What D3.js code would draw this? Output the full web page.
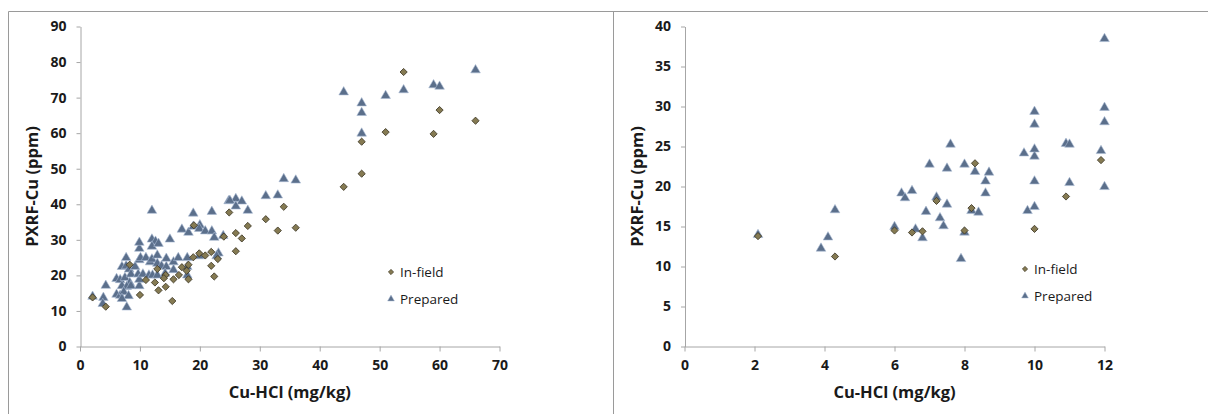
<!DOCTYPE html>
<html>
<head>
<meta charset="utf-8">
<script src="https://cdn.jsdelivr.net/npm/d3@7"></script>
<style>
  body { margin: 0; background: #fff; }
  svg { display: block; }
  .tick text { font-family: "Open Sans", Lato, sans-serif; font-weight: bold; font-size: 14px; fill: #1a1a1a; }
  .tick line, .domain { stroke: #a6a6a6; }
  .axis-title { font-family: "Open Sans", Lato, sans-serif; font-weight: bold; font-size: 16.5px; fill: #1a1a1a; }
  .legend text { font-family: "Open Sans", Lato, sans-serif; font-size: 13.5px; fill: #1a1a1a; }
</style>
</head>
<body>
<script>
// left chart: full range
var leftInField = [
  [2.1,13.8],[4.3,11.2],[8.3,23.0],[10,14.5],[11,18.7],[12.5,18],[12.9,21.8],[13.1,15.8],
  [14.3,20.1],[14.0,19.2],[14.3,16.8],[15.4,12.8],[15.6,18.9],[16.5,20.1],[17,22.3],[18.1,23],
  [17.8,21.3],[18.1,18.9],[18.9,25.1],[19,34.1],[19.9,26.2],[20.9,25.6],[21.9,26.6],[21.9,22.7],
  [22.4,19.7],[23,24.6],[24,30.9],[24.9,37.7],[26,31.9],[26,26.8],[27,30.4],[28,33.9],
  [31,35.8],[33,32.6],[34,39.3],[36,33.4],[44,44.9],[47,48.6],[47,57.6],[51,60.3],
  [54,77.2],[59,59.8],[60,66.5],[66,63.5]
];
var leftPrepared = [
  [2.1,13.9],[3.9,13.6],[3.8,11.9],[4.3,17],[6.1,18.9],[6.7,18.6],[7.5,19.2],[8.3,17.8],
  [7,16.9],[7.8,16.7],[8.5,16.9],[6.1,14.5],[6.7,14.2],[7.3,15.2],[8.1,14.1],[7,13.3],
  [7.8,10.9],[7.7,24.8],[7,22.3],[7.7,22.5],[8.2,21.6],[8.5,20.2],[9.2,22.3],[9.7,20.2],
  [9.9,16.9],[9.9,18.7],[9.9,24.2],[10.1,24.8],[9.9,27.4],[9.9,29.1],[10.5,20.2],[11,24.8],
  [11.5,19.9],[11.7,23.6],[12,24.4],[12,38.1],[12,30],[12.6,29.4],[12,28],[13.1,28.8],
  [12.1,19.9],[12.9,19.9],[12.9,25.5],[12.9,23.2],[13.6,22.5],[14.4,24.6],[14.4,22.3],[14.2,20.4],
  [15,30],[15.6,23.6],[15.6,21.4],[16.4,24.8],[17.9,24.8],[17.9,22.3],[17.9,19.9],[17,32.8],
  [18.1,31.9],[18.9,33.6],[18.9,37.3],[20,34],[19.9,33],[19.9,25.3],[20.9,32.3],[22,32.3],
  [22,37.8],[22.4,30.5],[23.9,31],[23.1,26.1],[22.8,25.3],[24.8,40.8],[26,41.4],[25,40.9],
  [27,40.7],[26,39.3],[28,38.1],[31,42.2],[33,42.4],[34,47],[36,46.6],[44,71.4],
  [47,68.3],[47,65.6],[47,59.8],[51,70.4],[54,72],[59,73.4],[60,73],[66,77.6]
];
var leftXTicks = [0, 10, 20, 30, 40, 50, 60, 70];
var leftYTicks = [0, 10, 20, 30, 40, 50, 60, 70, 80, 90];

// right chart: low range
var rightInField = [
  [2.1,13.8],[4.3,11.25],[6.0,14.5],[6.5,14.25],[6.8,14.4],[7.2,18.2],[8.0,14.5],[8.2,17.3],
  [8.3,22.9],[10.0,14.7],[10.9,18.75],[11.9,23.3]
];
var rightPrepared = [
  [2.1,13.9],[3.9,12.2],[4.1,13.6],[4.3,17],[6.0,14.9],[6.2,19.1],[6.3,18.5],[6.5,19.4],
  [6.6,14.6],[6.8,13.5],[6.9,16.8],[7.0,22.7],[7.2,18.6],[7.3,16.0],[7.4,15.0],[7.5,22.2],
  [7.5,17.7],[7.6,25.2],[7.9,10.9],[8.0,22.7],[8.0,14.2],[8.2,16.9],[8.3,21.8],[8.4,16.7],
  [8.6,20.6],[8.6,19.1],[8.7,21.7],[9.7,24.1],[9.8,16.9],[10,17.4],[10,20.6],[10,23.7],
  [10,24.6],[10,27.7],[10,29.3],[10.9,25.3],[11.0,25.2],[11.0,20.4],[11.9,24.4],[12,19.9],
  [12,28],[12,29.8],[12,38.4]
];
var rightXTicks = [0, 2, 4, 6, 8, 10, 12];
var rightYTicks = [0, 5, 10, 15, 20, 25, 30, 35, 40];

var seriesNames = ['In-field', 'Prepared'];

var width = 1208, height = 414;
var svg = d3.select('body').append('svg').attr('width', width).attr('height', height);

// frame
svg.append('path')
  .attr('d', 'M8.5,414 V11.5 H1208 M613.5,11.5 V414')
  .attr('fill', 'none').attr('stroke', '#9a9a9a');

var diamond = d3.symbol().type(d3.symbolSquare).size(26);
var triangle = d3.symbol().type(d3.symbolTriangle).size(40);

function drawMarker(g, kind, x, y) {
  if (kind === 0) {
    g.append('path').attr('d', diamond())
      .attr('transform', 'translate(' + x + ',' + y + ') rotate(45)')
      .attr('fill', '#857a52').attr('stroke', '#3d3826').attr('stroke-width', 0.8);
  } else {
    g.append('path').attr('d', triangle())
      .attr('transform', 'translate(' + x + ',' + (y - 0.5) + ')')
      .attr('fill', '#5b6f8b').attr('stroke', '#a9bbd3').attr('stroke-width', 0.6);
  }
}

function buildChart(opts) {
  var g = svg.append('g');
  var x = d3.scaleLinear().domain([opts.xTicks[0], opts.xTicks[opts.xTicks.length - 1]]).range([opts.x0, opts.x1]);
  var y = d3.scaleLinear().domain([opts.yTicks[0], opts.yTicks[opts.yTicks.length - 1]]).range([346.5, 26.5]);

  g.append('g').attr('transform', 'translate(0,346.5)')
    .call(d3.axisBottom(x).tickValues(opts.xTicks).tickSize(5).tickSizeOuter(0).tickPadding(9))
    .call(function(a) { a.selectAll('text').attr('dy', '0.71em'); });
  g.append('g').attr('transform', 'translate(' + (opts.x0 + 0.5) + ',0)')
    .call(d3.axisLeft(y).tickValues(opts.yTicks).tickSize(4).tickSizeOuter(0).tickPadding(10));

  g.append('text').attr('class', 'axis-title')
    .attr('transform', 'translate(' + opts.yTitleX + ',186.5) rotate(-90)')
    .attr('text-anchor', 'middle').attr('dy', '0.35em')
    .text('PXRF-Cu (ppm)');
  g.append('text').attr('class', 'axis-title')
    .attr('x', (opts.x0 + opts.x1) / 2).attr('y', 398)
    .attr('text-anchor', 'middle')
    .text('Cu-HCl (mg/kg)');

  var pts = g.append('g');
  opts.prepared.forEach(function(d) { drawMarker(pts, 1, x(d[0]), y(d[1])); });
  opts.inField.forEach(function(d) { drawMarker(pts, 0, x(d[0]), y(d[1])); });

  // legend
  var lg = g.append('g').attr('class', 'legend');
  seriesNames.forEach(function(name, i) {
    var ly = opts.legY + i * 27;
    var mk = lg.append('g');
    if (i === 0) {
      mk.append('path').attr('d', d3.symbol().type(d3.symbolSquare).size(14)())
        .attr('transform', 'translate(' + opts.legX + ',' + ly + ') rotate(45)')
        .attr('fill', '#857a52').attr('stroke', '#3d3826').attr('stroke-width', 0.6);
    } else {
      mk.append('path').attr('d', d3.symbol().type(d3.symbolTriangle).size(20)())
        .attr('transform', 'translate(' + opts.legX + ',' + ly + ')')
        .attr('fill', '#5b6f8b').attr('stroke', '#a9bbd3').attr('stroke-width', 0.5);
    }
    lg.append('text').attr('x', opts.legX + 9).attr('y', ly).attr('dy', '0.35em').text(name);
  });
}

buildChart({
  x0: 80, x1: 499.5, xTicks: leftXTicks, yTicks: leftYTicks,
  inField: leftInField, prepared: leftPrepared,
  yTitleX: 32, legX: 391, legY: 272
});
buildChart({
  x0: 684.5, x1: 1104.5, xTicks: rightXTicks, yTicks: rightYTicks,
  inField: rightInField, prepared: rightPrepared,
  yTitleX: 637, legX: 1025, legY: 269
});
</script>
</body>
</html>
